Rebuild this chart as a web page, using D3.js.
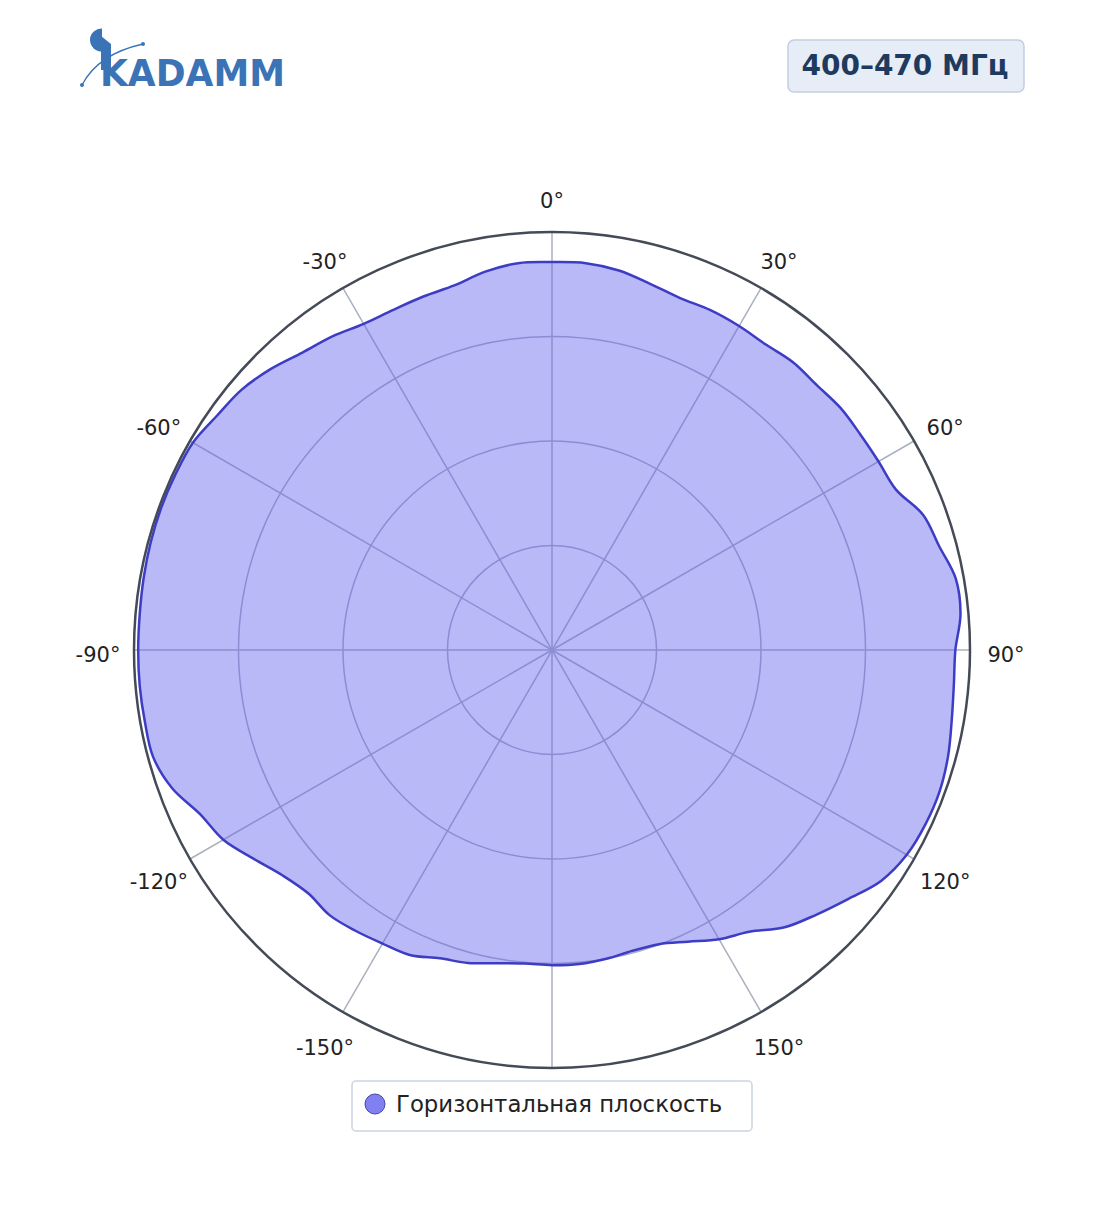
<!DOCTYPE html>
<html>
<head>
<meta charset="utf-8">
<script src="https://cdn.jsdelivr.net/npm/d3@7"></script>
<style>
  html, body { margin: 0; padding: 0; background: #ffffff; }
  svg { display: block; font-family: "DejaVu Sans", sans-serif; }
</style>
</head>
<body>
<svg id="chart" width="1104" height="1211"></svg>
<script>
// ---- data ----
const titleText = "400–470 МГц";
const seriesName = "Горизонтальная плоскость";
// azimuth in degrees, clockwise from top
const angles = [0,5,10,15,20,25,30,35,40,45,50,55,60,65,70,75,80,85,
  90,95,100,105,110,115,120,125,130,135,140,145,150,155,160,165,170,175,
  180,185,190,195,200,205,210,215,220,225,230,235,240,245,250,255,260,265,
  270,275,280,285,290,295,300,305,310,315,320,325,330,335,340,345,350,355];
// normalized radiation level (0..1)
const levels = [0.928,0.929,0.922,0.907,0.896,0.897,0.895,0.892,0.898,0.896,0.901,0.900,0.902,0.908,0.945,0.959,0.981,0.981,
  0.965,0.965,0.971,0.981,0.987,0.986,0.980,0.962,0.926,0.895,0.866,0.823,0.799,0.770,0.749,0.745,0.750,0.754,
  0.754,0.753,0.761,0.775,0.785,0.805,0.811,0.820,0.828,0.824,0.840,0.871,0.908,0.929,0.967,0.988,0.989,0.990,
  0.990,0.990,0.992,0.994,0.995,0.994,0.992,0.978,0.969,0.951,0.929,0.916,0.901,0.898,0.900,0.903,0.919,0.929];
const angularTicks = [0,30,60,90,120,150,-150,-120,-90,-60,-30];
const angularTickLabels = ["0°","30°","60°","90°","120°","150°","-150°","-120°","-90°","-60°","-30°"];
const radialTicks = [0.25,0.5,0.75];
const radialMax = 1;

// ---- layout ----
const svg = d3.select("#chart");
const cx = 552, cy = 650, R = 418;
const rScale = d3.scaleLinear().domain([0, radialMax]).range([0, R]);
const toRad = d => d * Math.PI / 180;

// logo
const logo = svg.append("g").attr("class", "logo");
const logoBlue = "#3a74b6";
logo.append("path").attr("d", "M102,28.5 A12,11.5 0 1 0 102,51.5 Z").attr("fill", logoBlue);
logo.append("path").attr("d", "M101,36 L111,44 L111,70 L101,70 Z").attr("fill", logoBlue);
logo.append("text").attr("x", 100).attr("y", 86)
  .attr("font-size", 38).attr("font-weight", "bold").attr("fill", logoBlue)
  .attr("textLength", 185).attr("lengthAdjust", "spacingAndGlyphs")
  .text("KADAMM");
logo.append("path").attr("d", "M82,85 Q98,54 143,44").attr("fill", "none")
  .attr("stroke", logoBlue).attr("stroke-width", 1.3);
logo.append("circle").attr("cx", 82).attr("cy", 85).attr("r", 2).attr("fill", logoBlue);
logo.append("circle").attr("cx", 143).attr("cy", 44).attr("r", 2).attr("fill", logoBlue);

// title box
const tb = svg.append("g");
tb.append("rect").attr("x", 788).attr("y", 40).attr("width", 236).attr("height", 52)
  .attr("rx", 6).attr("fill", "#e6edf6").attr("stroke", "#c2cfe0").attr("stroke-width", 1.5);
tb.append("text").attr("x", 905).attr("y", 75).attr("text-anchor", "middle")
  .attr("font-size", 28).attr("font-weight", "bold").attr("fill", "#1e3a5f").text(titleText);

// polar plot
const g = svg.append("g").attr("transform", `translate(${cx},${cy})`);
const gridColor = "#abb0be";

// radial rings
g.selectAll("circle.ring").data(radialTicks).enter().append("circle")
  .attr("class", "ring").attr("r", d => rScale(d))
  .attr("fill", "none").attr("stroke", gridColor).attr("stroke-width", 1.5);

// spokes
g.selectAll("line.spoke").data(angularTicks.concat([180])).enter().append("line")
  .attr("class", "spoke")
  .attr("x1", 0).attr("y1", 0)
  .attr("x2", d => rScale(radialMax) * Math.sin(toRad(d)))
  .attr("y2", d => -rScale(radialMax) * Math.cos(toRad(d)))
  .attr("stroke", gridColor).attr("stroke-width", 1.5);

// data area
const pts = angles.map((a, i) => [toRad(a), rScale(levels[i])]);
const radial = d3.lineRadial().angle(d => d[0]).radius(d => d[1]).curve(d3.curveCatmullRomClosed.alpha(0.5));
g.append("path").attr("d", radial(pts))
  .attr("fill", "rgba(100,100,238,0.45)")
  .attr("stroke", "#3c3cc4").attr("stroke-width", 2.5).attr("stroke-linejoin", "round");

// outer circle
g.append("circle").attr("r", rScale(radialMax)).attr("fill", "none")
  .attr("stroke", "#444a56").attr("stroke-width", 2.5);

// angular tick labels
const labR = 454;
g.selectAll("text.atick").data(angularTicks).enter().append("text")
  .attr("class", "atick")
  .attr("x", d => labR * Math.sin(toRad(d)))
  .attr("y", d => -labR * Math.cos(toRad(d)) + 5)
  .attr("text-anchor", "middle").attr("dominant-baseline", "central")
  .attr("font-size", 21).attr("fill", "#222222")
  .text((d, i) => angularTickLabels[i]);

// legend
const lg = svg.append("g");
lg.append("rect").attr("x", 352).attr("y", 1081).attr("width", 400).attr("height", 50)
  .attr("rx", 4).attr("fill", "#ffffff").attr("stroke", "#ccd4e0").attr("stroke-width", 1.5);
lg.append("circle").attr("cx", 375).attr("cy", 1104).attr("r", 10)
  .attr("fill", "#8080f0").attr("stroke", "#4646a8").attr("stroke-width", 1);
lg.append("text").attr("x", 396).attr("y", 1112)
  .attr("font-size", 22.8).attr("fill", "#222").text(seriesName);
</script>
</body>
</html>
